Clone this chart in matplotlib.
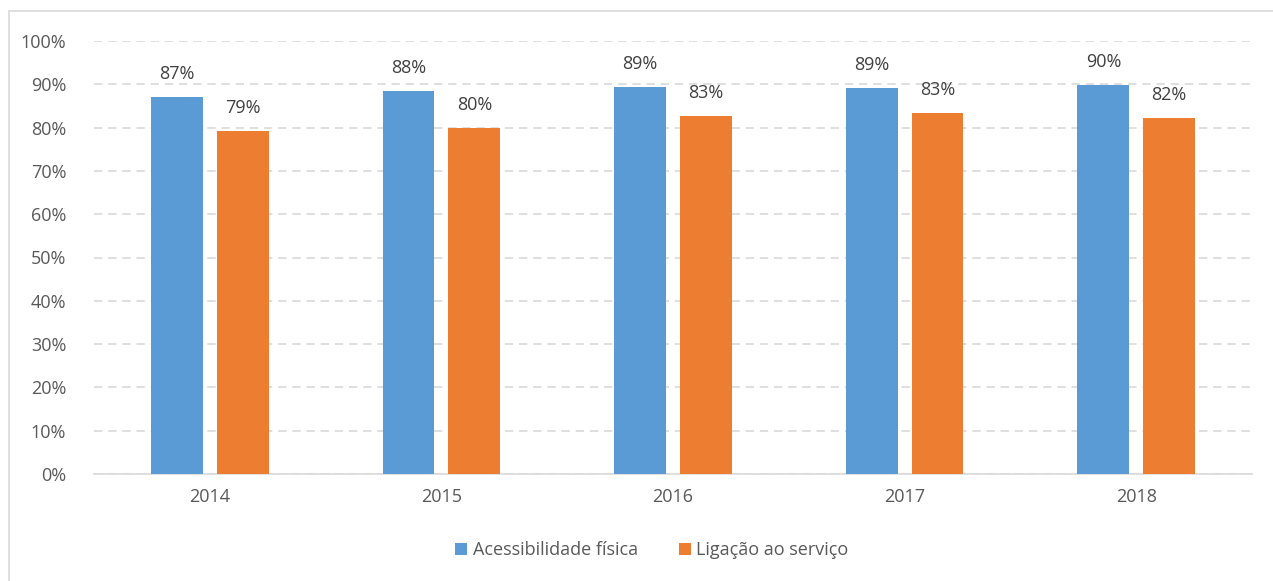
import matplotlib.pyplot as plt
from matplotlib.patches import Rectangle
import numpy as np

years = ["2014", "2015", "2016", "2017", "2018"]
acessibilidade = [87.1, 88.4, 89.4, 89.1, 89.8]
ligacao = [79.2, 79.9, 82.7, 83.4, 82.2]
series_names = ["Acessibilidade física", "Ligação ao serviço"]

blue = "#5B9BD5"
orange = "#ED7D31"
txt = "#595959"

plt.rcParams['font.family'] = ['Open Sans', 'DejaVu Sans']

fig = plt.figure(figsize=(12.73, 5.81), dpi=100)
ax = fig.add_axes([94 / 1273, 1 - 474 / 581, (1252 - 94) / 1273, (474 - 41) / 581])

# light frame around the chart (partly cut off on right/bottom)
fig.patches.append(Rectangle((9 / 1273, -0.1), 1.2, 1 - 11 / 581 + 0.1,
                             transform=fig.transFigure, fill=False,
                             edgecolor="#D9D9D9", linewidth=1.2))

x = np.arange(len(years))
w = 0.224
off = 0.142
b1 = ax.bar(x - off, acessibilidade, w, color=blue, label=series_names[0], zorder=3)
b2 = ax.bar(x + off, ligacao, w, color=orange, label=series_names[1], zorder=3)

for bars, vals in [(b1, acessibilidade), (b2, ligacao)]:
    for b, v in zip(bars, vals):
        ax.text(b.get_x() + b.get_width() / 2, v + 3.3, f"{round(v)}%",
                ha="center", va="bottom", fontsize=13, color="#404040")

ax.set_xlim(-0.5, len(years) - 0.5)
ax.set_ylim(0, 100)
ax.set_yticks(range(0, 101, 10))
ax.set_yticklabels([f"{t}%" for t in range(0, 101, 10)])
ax.set_xticks(x)
ax.set_xticklabels(years)
ax.tick_params(axis="both", length=0, labelsize=13, colors=txt)
ax.tick_params(axis="y", pad=20)
ax.tick_params(axis="x", pad=10)

ax.grid(axis="y", color="#D9D9D9", linestyle=(0, (5, 3.5)), linewidth=1.2, zorder=0)
for s in ["top", "right", "left"]:
    ax.spines[s].set_visible(False)
ax.spines["bottom"].set_color("#D9D9D9")
ax.spines["bottom"].set_linewidth(1.2)

leg = fig.legend(loc="center", bbox_to_anchor=(652 / 1273, 1 - 550 / 581), ncol=2,
                 frameon=False, fontsize=13, handlelength=0.65, handleheight=0.65,
                 handletextpad=0.3, columnspacing=2.3)
for t in leg.get_texts():
    t.set_color(txt)

fig.savefig("out.png", dpi=100)
